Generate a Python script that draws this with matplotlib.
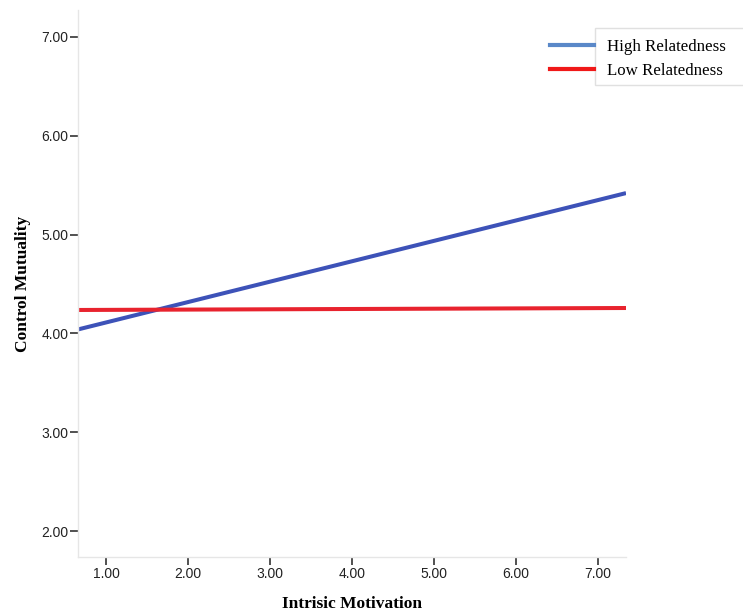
import matplotlib
matplotlib.use("Agg")
import matplotlib.pyplot as plt
from matplotlib.lines import Line2D
from matplotlib.patches import Rectangle

# Data
x_vals = [0.659, 7.341]
high_rel = [4.04, 5.42]
low_rel = [4.237, 4.257]
series_names = ["High Relatedness", "Low Relatedness"]
x_ticks = [1, 2, 3, 4, 5, 6, 7]
y_ticks = [2, 3, 4, 5, 6, 7]

fig = plt.figure(figsize=(7.43, 6.14), dpi=100)
ax = fig.add_axes([78/743, 1-557/614, (626-78)/743, (557-10)/614])

ax.plot(x_vals, high_rel, color="#3d52b8", lw=2.9, solid_capstyle="butt")
ax.plot(x_vals, low_rel, color="#e8232e", lw=2.9, solid_capstyle="butt")

ax.set_xlim(0.659, 7.341)
ax.set_ylim(1.737, 7.273)
ax.set_xticks(x_ticks)
ax.set_xticklabels([f"{v:.2f}" for v in x_ticks])
ax.set_yticks(y_ticks)
ax.set_yticklabels([f"{v:.2f}" for v in y_ticks])

for s in ["top", "right"]:
    ax.spines[s].set_visible(False)
for s in ["left", "bottom"]:
    ax.spines[s].set_color("#e6e6e6")
    ax.spines[s].set_linewidth(1.0)

ax.tick_params(axis="both", direction="out", length=6, width=1.2, color="#333333",
               labelsize=10, labelcolor="#222222")
ax.tick_params(axis="x", pad=1)
ax.tick_params(axis="y", pad=1)
for lab in ax.get_xticklabels() + ax.get_yticklabels():
    lab.set_fontfamily("Liberation Sans")

ax.set_xlabel("Intrisic Motivation", fontfamily="Liberation Serif", fontweight="bold",
              fontsize=12.5, labelpad=11)
ax.set_ylabel("Control Mutuality", fontfamily="Liberation Serif", fontweight="bold",
              fontsize=12.5, labelpad=7)

# legend box
fig.patches.append(Rectangle((595/743, 1-85/614), 0.3, (85-28)/614,
                             transform=fig.transFigure, facecolor="white",
                             edgecolor="#e0e0e0", lw=1.0, zorder=0))
handles = [Line2D([], [], color="#5a88c8", lw=3.0),
           Line2D([], [], color="#f01818", lw=3.0)]
leg = fig.legend(handles, series_names, loc="upper left",
                 bbox_to_anchor=(545/743, 1-34/614), frameon=False,
                 prop={"family": "Liberation Serif", "size": 12.2},
                 handlelength=2.6, handletextpad=0.75, labelspacing=0.45,
                 borderpad=0.1, borderaxespad=0.2)

fig.savefig("out.png", dpi=100)
